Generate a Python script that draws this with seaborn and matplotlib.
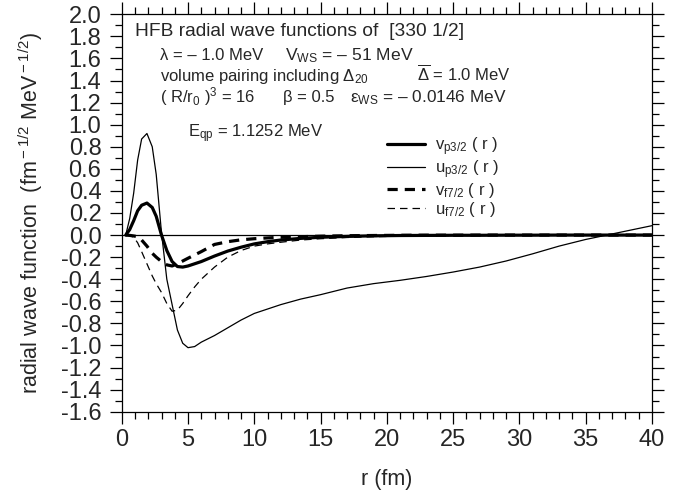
import numpy as np
import pandas as pd
import matplotlib
matplotlib.use("Agg")
from matplotlib import pyplot as plt
from matplotlib.ticker import MultipleLocator
import seaborn as sns

# radius grid (fm) and the four HFB radial wave functions
r_fm = [0.3, 0.6, 0.9, 1.2, 1.5, 1.9, 2.3, 2.6, 3.0, 3.4, 3.8, 4.2, 4.6, 5.0, 5.5, 6.0,
        7, 8, 9, 10, 11, 12, 13.5, 15, 17, 19, 21, 23, 25, 27, 29, 31, 33, 35, 37, 39, 40]

v_p32 = [0.0, 0.05, 0.13, 0.22, 0.27, 0.29, 0.25, 0.17, 0.0, -0.14, -0.24, -0.285, -0.29,
         -0.28, -0.26, -0.24, -0.19, -0.145, -0.11, -0.08, -0.06, -0.045, -0.03, -0.02,
         -0.012, -0.007, -0.004, -0.003, -0.002, -0.002, -0.001, -0.001, 0.0, 0.0, 0.0, 0.0, 0.0]

u_p32 = [0.0, 0.15, 0.38, 0.68, 0.87, 0.92, 0.80, 0.55, 0.02, -0.40, -0.63, -0.86, -0.98,
         -1.02, -1.01, -0.97, -0.91, -0.84, -0.77, -0.71, -0.67, -0.63, -0.58, -0.54,
         -0.48, -0.44, -0.41, -0.375, -0.335, -0.29, -0.235, -0.17, -0.10, -0.04, 0.01, 0.06, 0.085]

v_f72 = [0.0, -0.003, -0.008, -0.015, -0.045, -0.10, -0.165, -0.20, -0.24, -0.27, -0.28,
         -0.26, -0.235, -0.21, -0.18, -0.15, -0.085, -0.06, -0.043, -0.033, -0.026, -0.02,
         -0.015, -0.01, -0.006, -0.004, -0.002, -0.001, -0.001, 0.0, 0.0, 0.0, 0.0, 0.0, 0.0, 0.0, 0.0]

u_f72 = [0.0, -0.005, -0.02, -0.07, -0.15, -0.26, -0.37, -0.44, -0.52, -0.62, -0.69,
         -0.68, -0.62, -0.55, -0.47, -0.40, -0.29, -0.20, -0.14, -0.10, -0.08, -0.065,
         -0.045, -0.033, -0.022, -0.015, -0.01, -0.007, -0.005, -0.003, -0.002, -0.001,
         0.0, 0.0, 0.0, 0.0, 0.0]

labels = [r"v$_{\rm p3/2}$ ( r )", r"u$_{\rm p3/2}$ ( r )",
          r"v$_{\rm f7/2}$ ( r )", r"u$_{\rm f7/2}$ ( r )"]

sns.set_style("ticks")
plt.rcParams["font.family"] = ["Liberation Sans", "DejaVu Sans"]
plt.rcParams["mathtext.fontset"] = "custom"
plt.rcParams["mathtext.rm"] = "Liberation Sans"
plt.rcParams["mathtext.it"] = "Liberation Sans:italic"
plt.rcParams["mathtext.bf"] = "Liberation Sans:bold"

fig = plt.figure(figsize=(6.84, 4.94), dpi=100)
ax = fig.add_axes([0.178, 0.1666, 0.775, 0.8045])

df = pd.DataFrame({"r": r_fm, "v_p": v_p32, "u_p": u_p32, "v_f": v_f72, "u_f": u_f72})

styles = [
    ("v_p", 2.3, "-"),
    ("u_p", 0.9, "-"),
    ("v_f", 2.3, (0, (3.2, 2.2))),
    ("u_f", 0.9, (0, (6, 4))),
]
for (col, lw, ls), lab in zip(styles, labels):
    sns.lineplot(data=df, x="r", y=col, color="black", lw=lw, linestyle=ls,
                 label=lab, ax=ax, sort=False, estimator=None)

ax.axhline(0, color="black", lw=0.9, zorder=0)

ax.set_xlim(0, 40)
ax.set_ylim(-1.6, 2.0)
ax.xaxis.set_major_locator(MultipleLocator(5))
ax.xaxis.set_minor_locator(MultipleLocator(1))
ax.yaxis.set_major_locator(MultipleLocator(0.2))
ax.yaxis.set_minor_locator(MultipleLocator(0.1))
ax.set_yticklabels([f"{v:.1f}" for v in ax.get_yticks()])
ax.tick_params(which="both", direction="out", top=True, right=True, width=0.9, color="black")
ax.tick_params(which="major", length=8.6, labelsize=17)
ax.tick_params(axis="x", which="major", pad=4)
ax.tick_params(axis="y", which="major", pad=6)
ax.tick_params(which="minor", length=5)
for s in ax.spines.values():
    s.set_linewidth(0.9)
    s.set_color("black")

ax.set_xlabel("r (fm)", fontsize=15.5)
ax.set_ylabel(r"radial wave function  (fm$^{\rm -1/2}$ MeV$^{\rm -1/2}$)", fontsize=15.5)
ax.xaxis.set_label_coords(0.5, -0.145)
ax.yaxis.set_label_coords(-0.145, 0.5)

H = 494.0
W = 684.0
def put(x, y, s, size=12):
    fig.text(x / W, 1 - y / H, s, fontsize=size, va="baseline", ha="left")

put(135, 36, "HFB radial wave functions of  [330 1/2]", 13.8)
put(160, 60, "λ = – 1.0 MeV")
put(285, 60, r"V$_{\rm WS}$ = – 51 MeV", 12.6)
put(160, 81, r"volume pairing including Δ$_{\rm 20}$")
put(417, 81, r"$\overline{\rm Δ}$ = 1.0 MeV")
put(160, 102, r"( R/r$_{\rm 0}$ )$^{\rm 3}$ = 16")
put(283, 102, "β = 0.5")
put(350, 102, r"ε$_{\rm WS}$ = – 0.0146 MeV", 12.4)
put(188, 137, r"E$_{\rm qp}$ = 1.1252 MeV")

handles, labs = ax.get_legend_handles_labels()
ax.legend(handles, labs, loc="upper left", bbox_to_anchor=(387 / W, 1 - 135 / H),
          bbox_transform=fig.transFigure, frameon=False, fontsize=12,
          handlelength=2.3, handletextpad=0.6, labelspacing=0.02,
          borderpad=0, borderaxespad=0)

fig.savefig("out.png", dpi=100)
